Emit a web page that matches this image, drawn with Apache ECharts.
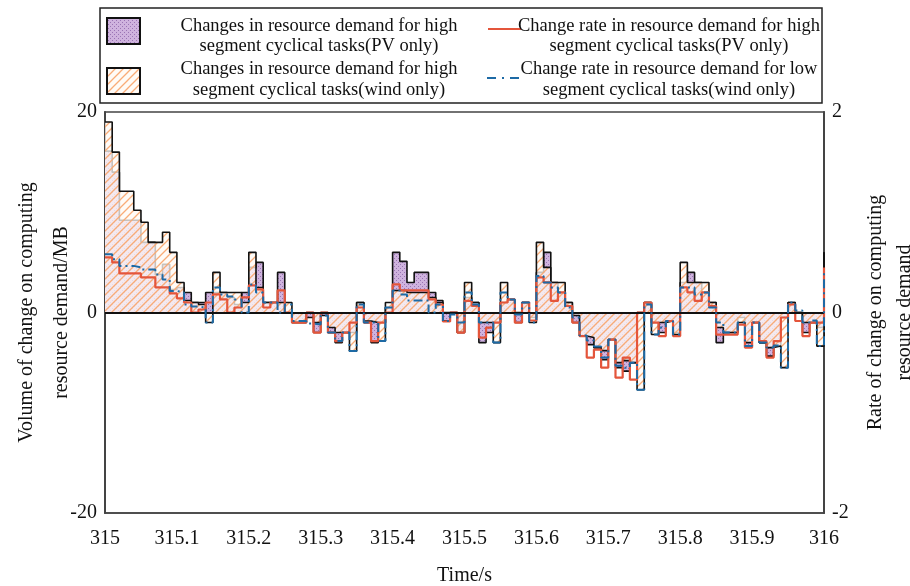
<!DOCTYPE html>
<html>
<head>
<meta charset="utf-8">
<script src="https://cdn.jsdelivr.net/npm/echarts@6/dist/echarts.min.js"></script>
<style>
html,body{margin:0;padding:0;background:#fff;}
#chart{width:910px;height:586px;}
</style>
</head>
<body>
<div id="chart"></div>
<script>
// Sampling grid: one step every 0.01 s from 315 s to 316 s
const timeStart = 315;
const timeStep = 0.01;

// Change in resource demand (MB), high-segment cyclical tasks, PV only
const pvDemand = [16.1,14.0,9.2,9.2,9.2,7.0,7.0,3.8,4.8,2.3,
  2.5,2.0,1.0,1.0,2.0,2.0,2.0,1.5,0.8,2.0,
  4.5,5.0,1.0,1.0,4.0,0.0,-1.0,-1.0,-0.5,-2.0,
  -0.3,-2.0,-3.0,-2.0,-2.0,1.0,-1.0,-3.0,-1.0,0.5,
  6.0,5.1,3.0,4.0,4.0,2.0,1.2,-0.85,0.0,-2.0,
  1.5,1.0,-3.0,-2.0,-1.0,1.0,1.3,-1.0,1.0,-0.5,
  4.0,6.0,3.0,2.0,1.0,-1.0,-2.35,-3.2,-3.5,-4.7,
  -2.7,-5.5,-5.85,-5.0,0.0,1.0,-1.0,-2.0,-0.85,-2.0,
  3.0,4.0,3.0,2.0,1.0,-3.0,-2.0,-2.0,-0.5,-3.35,
  -1.0,-3.0,-4.35,-3.35,-0.5,1.0,0.0,-2.0,-1.0,-1.5,6.0];

// Change in resource demand (MB), high-segment cyclical tasks, wind only
const windDemand = [19.0,16.0,12.1,12.1,10.2,9.0,7.0,7.0,8.0,6.0,
  3.0,1.2,1.0,0.8,-1.0,4.0,2.0,2.0,2.0,1.0,
  6.0,2.5,1.0,1.0,1.0,1.0,-1.0,-1.0,0.0,-1.0,
  0.0,-1.5,-2.0,-2.0,-3.85,1.0,-0.85,-1.0,-2.85,1.0,
  2.2,2.2,2.0,2.0,2.0,1.5,1.0,0.0,0.0,-2.0,
  3.0,1.0,-1.0,-1.0,-3.0,3.0,1.3,0.0,1.0,-1.0,
  7.0,4.5,3.0,3.0,1.0,-0.3,-2.35,-2.5,-3.5,-3.8,
  -2.7,-5.0,-4.8,-5.0,-7.7,1.0,-2.2,-1.0,-0.85,-2.2,
  5.0,3.0,3.0,3.0,1.0,-1.5,-2.0,-2.0,-1.0,-3.0,
  -1.0,-3.0,-3.5,-3.35,-5.5,1.0,0.0,-1.0,-1.0,-3.35,6.0];

// Change rate in resource demand, high-segment tasks, PV only
const pvRate = [0.55,0.50,0.39,0.39,0.39,0.35,0.35,0.25,0.25,0.19,
  0.14,0.10,0.00,0.03,0.10,0.18,0.13,0.00,0.05,0.15,
  0.27,0.23,0.05,0.10,0.22,0.00,-0.10,-0.10,0.00,-0.20,
  0.00,-0.20,-0.285,-0.20,-0.10,0.05,-0.10,-0.285,-0.10,0.00,
  0.28,0.22,0.22,0.22,0.22,0.13,0.08,-0.09,0.00,-0.20,
  0.115,0.065,-0.25,-0.15,-0.10,0.10,0.13,-0.10,0.10,-0.08,
  0.35,0.30,0.115,0.20,0.065,-0.10,-0.235,-0.45,-0.37,-0.55,
  -0.27,-0.65,-0.45,-0.67,0.00,0.10,-0.10,-0.235,-0.085,-0.235,
  0.25,0.20,0.115,0.20,0.065,-0.22,-0.22,-0.22,-0.12,-0.35,
  -0.10,-0.285,-0.45,-0.285,-0.05,0.08,-0.085,-0.235,-0.10,-0.10,0.45];

// Change rate in resource demand, low-segment tasks, wind only
const windRate = [0.58,0.53,0.465,0.465,0.45,0.43,0.43,0.38,0.33,0.215,
  0.20,0.08,0.06,0.05,-0.10,0.25,0.18,0.16,0.13,0.00,
  0.28,0.20,0.10,0.10,0.00,0.08,-0.085,-0.085,-0.11,-0.12,
  -0.03,-0.20,-0.285,-0.20,-0.385,0.08,-0.10,-0.10,-0.285,0.05,
  0.22,0.18,0.12,0.12,0.12,0.00,0.08,-0.085,-0.02,-0.10,
  0.20,0.08,-0.10,-0.10,-0.30,0.20,0.13,-0.02,0.10,-0.10,
  0.365,0.30,0.25,0.20,0.05,-0.05,-0.23,-0.28,-0.34,-0.45,
  -0.27,-0.53,-0.55,-0.50,-0.77,0.08,-0.22,-0.15,-0.085,-0.22,
  0.25,0.25,0.18,0.20,0.05,-0.10,-0.20,-0.20,-0.10,-0.335,
  -0.10,-0.30,-0.35,-0.33,-0.55,0.10,0.02,-0.10,-0.08,-0.335,0.40];

const xTickValues = [315,315.1,315.2,315.3,315.4,315.5,315.6,315.7,315.8,315.9,316];
const leftTicks = [-20,0,20];
const rightTicks = [-2,0,2];

const seriesNames = [
  'Changes in resource demand for high\nsegment cyclical tasks(PV only)',
  'Changes in resource demand for high\nsegment cyclical tasks(wind only)',
  'Change rate in resource demand for high\nsegment cyclical tasks(PV only)',
  'Change rate in resource demand for low\nsegment cyclical tasks(wind only)'
];

const times = pvDemand.map((_, i) => Number((timeStart + i * timeStep).toFixed(2)));
const pairs = arr => arr.map((v, i) => [times[i], v]);

// Fill patterns: dotted lilac for PV, orange diagonal hatch for wind
function dotPattern() {
  const c = document.createElement('canvas');
  c.width = 4; c.height = 4;
  const g = c.getContext('2d');
  g.fillStyle = '#cfb3de';
  g.fillRect(0, 0, 4, 4);
  g.fillStyle = '#9a74b4';
  g.fillRect(0, 0, 1, 1);
  g.fillRect(2, 2, 1, 1);
  return c;
}
function hatchPattern() {
  const s = 8;
  const c = document.createElement('canvas');
  c.width = s; c.height = s;
  const g = c.getContext('2d');
  g.fillStyle = 'rgba(255,250,245,0.76)';
  g.fillRect(0, 0, s, s);
  g.strokeStyle = 'rgba(249,168,112,0.95)';
  g.lineWidth = 1.3;
  g.beginPath();
  g.moveTo(0, s); g.lineTo(s, 0);
  g.moveTo(-s / 2, s / 2); g.lineTo(s / 2, -s / 2);
  g.moveTo(s / 2, s * 1.5); g.lineTo(s * 1.5, s / 2);
  g.stroke();
  return c;
}
const pvFill = { image: dotPattern(), repeat: 'repeat' };
const windFill = { image: hatchPattern(), repeat: 'repeat' };

const FONT = 'Liberation Serif';
const red = '#e4553b';
const blue = '#1d6aa5';

const chart = echarts.init(document.getElementById('chart'), null, { renderer: 'canvas' });

const legendText = (x, y, text) => ({
  type: 'text', x, y, z: 11,
  style: { text, fill: '#111', font: '18.5px "' + FONT + '"', align: 'center', verticalAlign: 'middle' }
});

chart.setOption({
  animation: false,
  backgroundColor: '#fff',
  grid: { left: 105, right: 86, top: 112, bottom: 73, containLabel: false, outerBoundsMode: 'none',
    show: true, borderColor: '#444', borderWidth: 1.5, backgroundColor: 'transparent' },
  xAxis: {
    type: 'value', min: xTickValues[0], max: xTickValues[xTickValues.length - 1], interval: 0.1,
    name: 'Time/s', nameLocation: 'middle', nameGap: 53, nameMoveOverlap: false,
    nameTextStyle: { fontFamily: FONT, fontSize: 20, color: '#111' },
    axisLine: { onZero: false, lineStyle: { color: '#444', width: 1.5 } },
    axisTick: { show: false },
    splitLine: { show: false },
    axisLabel: { fontFamily: FONT, fontSize: 20, color: '#111', margin: 16,
      formatter: v => String(Number(v.toFixed(1))) }
  },
  yAxis: [{
    type: 'value', min: leftTicks[0], max: leftTicks[2], interval: 20, position: 'left',
    name: 'Volume of change on computing\nresource demand/MB', nameLocation: 'middle', nameGap: 26, nameRotate: 90,
    nameMoveOverlap: false,
    nameTextStyle: { fontFamily: FONT, fontSize: 20, color: '#111', lineHeight: 35 },
    axisLine: { show: true, lineStyle: { color: '#444', width: 2 } },
    axisTick: { show: false },
    splitLine: { show: false },
    axisLabel: { fontFamily: FONT, fontSize: 20, color: '#111', margin: 8 }
  }, {
    type: 'value', min: rightTicks[0], max: rightTicks[2], interval: 2, position: 'right',
    name: 'Rate of change on computing\nresource demand', nameLocation: 'middle', nameGap: 37, nameRotate: 90,
    nameMoveOverlap: false,
    nameTextStyle: { fontFamily: FONT, fontSize: 20, color: '#111', lineHeight: 29 },
    axisLine: { show: true, lineStyle: { color: '#444', width: 2 } },
    axisTick: { show: false },
    splitLine: { show: false },
    axisLabel: { fontFamily: FONT, fontSize: 20, color: '#111', margin: 8 }
  }],
  series: [{
    name: seriesNames[0], type: 'line', step: 'end', symbol: 'none', z: 2,
    data: pairs(pvDemand),
    lineStyle: { color: '#111', width: 1.6 },
    areaStyle: { color: pvFill, opacity: 1 }
  }, {
    name: seriesNames[1], type: 'line', step: 'end', symbol: 'none', z: 3,
    data: pairs(windDemand),
    lineStyle: { color: '#111', width: 1.6 },
    areaStyle: { color: windFill, opacity: 1 },
    markLine: { silent: true, symbol: 'none', label: { show: false },
      lineStyle: { color: '#111', width: 1.8, type: 'solid' }, data: [{ yAxis: 0 }] }
  }, {
    name: seriesNames[2], type: 'line', step: 'end', symbol: 'none', z: 4, yAxisIndex: 1,
    data: pairs(pvRate),
    lineStyle: { color: red, width: 2.2 }
  }, {
    name: seriesNames[3], type: 'line', step: 'end', symbol: 'none', z: 5, yAxisIndex: 1,
    data: pairs(windRate),
    lineStyle: { color: blue, width: 2, type: [9, 4, 2, 4] }
  }],
  graphic: [
    { type: 'rect', shape: { x: 100, y: 8, width: 722, height: 95 }, style: { fill: '#fff', stroke: '#222', lineWidth: 1.5 }, z: 10 },
    { type: 'rect', shape: { x: 107, y: 18, width: 33, height: 26 }, style: { fill: pvFill, stroke: '#111', lineWidth: 2 }, z: 11 },
    { type: 'rect', shape: { x: 107, y: 68, width: 33, height: 26 }, style: { fill: windFill, stroke: '#111', lineWidth: 2 }, z: 11 },
    { type: 'line', shape: { x1: 488, y1: 29, x2: 521, y2: 29 }, style: { stroke: red, lineWidth: 2 }, z: 11 },
    { type: 'line', shape: { x1: 487, y1: 78, x2: 521, y2: 78 }, style: { stroke: blue, lineWidth: 2, lineDash: [9, 6, 2, 6] }, z: 11 },
    legendText(319, 26, 'Changes in resource demand for high'),
    legendText(319, 46, 'segment cyclical tasks(PV only)'),
    legendText(319, 69, 'Changes in resource demand for high'),
    legendText(319, 90, 'segment cyclical tasks(wind only)'),
    legendText(669, 26, 'Change rate in resource demand for high'),
    legendText(669, 46, 'segment cyclical tasks(PV only)'),
    legendText(669, 69, 'Change rate in resource demand for low'),
    legendText(669, 90, 'segment cyclical tasks(wind only)')
  ]
});
</script>
</body>
</html>
